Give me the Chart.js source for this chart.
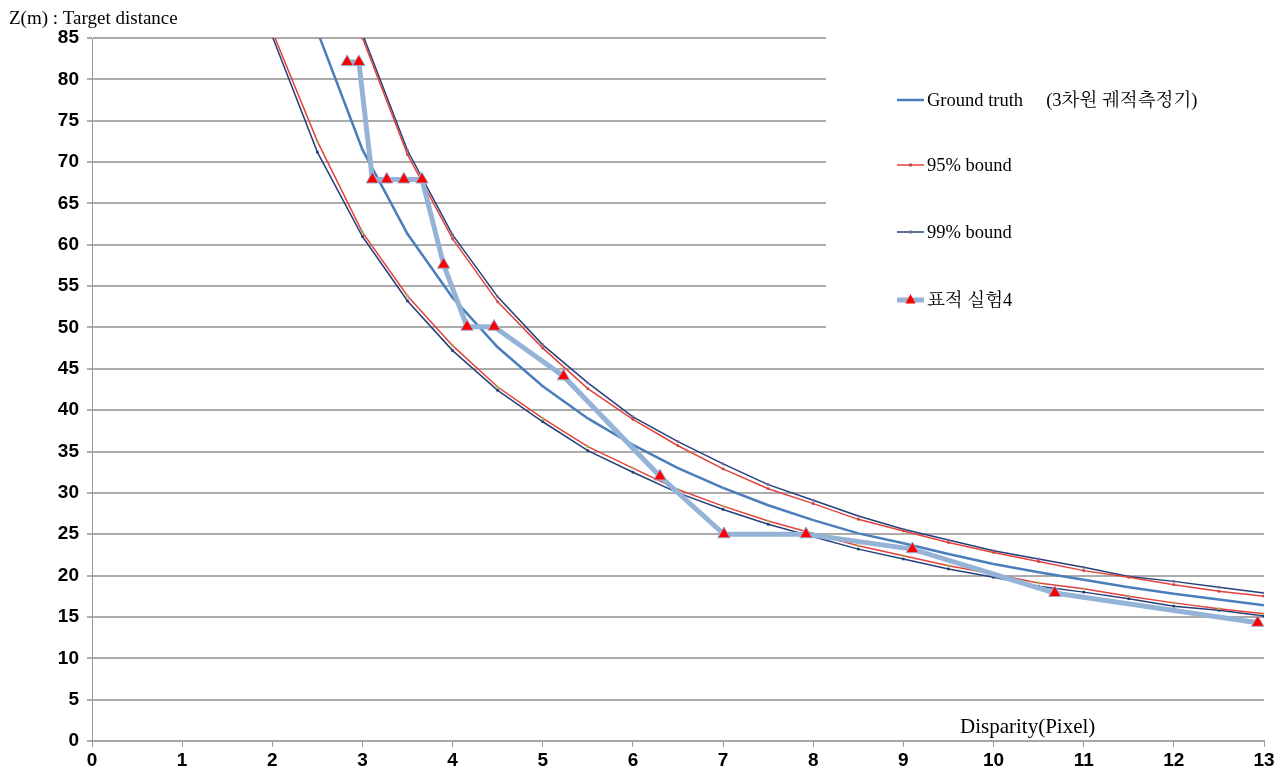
<!DOCTYPE html>
<html>
<head>
<meta charset="utf-8">
<script src="https://cdn.jsdelivr.net/npm/chart.js@4/dist/chart.umd.min.js"></script>
<style>
  html, body { margin: 0; padding: 0; background: #ffffff; }
  #wrap { width: 1283px; height: 775px; position: relative; }
</style>
</head>
<body>
<div id="wrap"><canvas id="c" width="1283" height="775"></canvas></div>
<script>
// ---- data ----
const gtX = [2.5,3,3.5,4,4.5,5,5.5,6,6.5,7,7.5,8,8.5,9,9.5,10,10.5,11,11.5,12,12.5,13];
const groundTruth = [85.8,71.5,61.3,53.6,47.6,42.9,39.0,35.8,33.0,30.6,28.5,26.7,25.1,23.9,22.6,21.4,20.4,19.5,18.6,17.8,17.1,16.4];

const upperX = [3,3.5,4,4.5,5,5.5,6,6.5,7,7.5,8,8.5,9,9.5,10,10.5,11,11.5,12,12.5,13];
const upper95 = [85.0,70.9,60.7,53.1,47.5,42.6,38.9,35.7,32.9,30.5,28.7,26.8,25.4,24.0,22.8,21.7,20.6,19.8,18.9,18.1,17.5];
const upper99 = [85.5,71.4,61.2,53.7,47.9,43.3,39.2,36.2,33.5,31.0,29.1,27.2,25.6,24.3,23.0,22.0,21.0,19.9,19.3,18.6,17.9];

const lowerX = [2,2.5,3,3.5,4,4.5,5,5.5,6,6.5,7,7.5,8,8.5,9,9.5,10,10.5,11,11.5,12,12.5,13];
const lower95 = [85.8,72.5,61.5,53.8,47.8,42.8,39.0,35.6,33.0,30.4,28.4,26.6,25.1,23.6,22.4,21.2,20.2,19.1,18.4,17.5,16.7,16.0,15.4];
const lower99 = [85.2,71.2,61.0,53.2,47.2,42.4,38.6,35.1,32.5,30.0,28.0,26.2,24.7,23.2,22.0,20.8,19.8,18.7,18.0,17.2,16.3,15.8,15.1];

const targetX = [2.83,2.96,3.11,3.27,3.46,3.66,3.90,4.16,4.46,5.23,6.30,7.01,7.92,9.10,10.68,12.93];
const targetY = [82.1,82.1,67.9,67.9,67.9,67.9,57.6,50.1,50.1,44.1,32.0,25.0,25.0,23.2,17.9,14.3];

const xTicks = [0,1,2,3,4,5,6,7,8,9,10,11,12,13];
const yTicks = [0,5,10,15,20,25,30,35,40,45,50,55,60,65,70,75,80,85];

const labelGT = 'Ground truth     (3차원 궤적측정기)';
const label95 = '95% bound';
const label99 = '99% bound';
const labelTarget = '표적 실험4';
const yTitle = 'Z(m) : Target distance';
const xTitle = 'Disparity(Pixel)';

function pts(xs, ys) { return xs.map((x, i) => ({ x: x, y: ys[i] })); }

const C_GT = '#4a7ebb';
const C_95 = '#e5423c';
const C_99 = '#24407a';
const C_T = '#95b3d7';
const SERIF = "'Liberation Serif', 'Times New Roman', 'Noto Serif CJK KR', 'Noto Sans CJK KR', serif";
const TICKFONT = "'Liberation Sans Narrow', 'Liberation Sans', Arial, sans-serif";

const overlayPlugin = {
  id: 'overlay',
  beforeDatasetsDraw(chart) {
    // legend area: grid lines stop at the legend block
    const ctx = chart.ctx, a = chart.chartArea, y = chart.scales.y;
    ctx.save();
    ctx.fillStyle = '#ffffff';
    const yb = y.getPixelForValue(47.5);
    ctx.fillRect(826, a.top - 3, a.right - 826 + 3, yb - a.top + 3);
    ctx.restore();
  },
  afterDraw(chart) {
    const ctx = chart.ctx;
    ctx.save();
    // axis titles
    ctx.fillStyle = '#000';
    ctx.textBaseline = 'alphabetic';
    ctx.font = '19px ' + SERIF;
    ctx.textAlign = 'left';
    ctx.fillText(yTitle, 9, 24);
    ctx.font = '21px ' + SERIF;
    ctx.fillText(xTitle, 960, 733);

    // legend
    const items = [
      { label: labelGT, color: C_GT, w: 2.5, y: 100, marker: 'dash' },
      { label: label95, color: C_95, w: 1.5, y: 165, marker: 'dot', mc: '#be4b48' },
      { label: label99, color: C_99, w: 1.5, y: 232, marker: 'dot', mc: '#8064a2' },
      { label: labelTarget, color: C_T, w: 5, y: 300, marker: 'tri' }
    ];
    items.forEach(it => {
      ctx.strokeStyle = it.color;
      ctx.lineWidth = it.w;
      ctx.beginPath();
      ctx.moveTo(897, it.y);
      ctx.lineTo(924, it.y);
      ctx.stroke();
      if (it.marker === 'dot') {
        ctx.fillStyle = it.mc;
        ctx.fillRect(909, it.y - 1.5, 3, 3);
      } else if (it.marker === 'tri') {
        ctx.fillStyle = '#ff0000';
        ctx.beginPath();
        ctx.moveTo(910.5, it.y - 6);
        ctx.lineTo(915.5, it.y + 3.5);
        ctx.lineTo(905.5, it.y + 3.5);
        ctx.closePath();
        ctx.fill();
      }
      ctx.fillStyle = '#000';
      ctx.font = '18.5px ' + SERIF;
      ctx.textAlign = 'left';
      ctx.textBaseline = 'middle';
      ctx.fillText(it.label, 927, it.y + 1);
    });
    ctx.restore();
  }
};

const lineDefaults = { showLine: true, tension: 0, fill: false };

new Chart(document.getElementById('c'), {
  type: 'scatter',
  data: {
    datasets: [
      Object.assign({}, lineDefaults, {
        label: labelTarget, data: pts(targetX, targetY),
        borderColor: C_T, borderWidth: 5,
        pointStyle: 'triangle', pointRadius: 7.2, pointBackgroundColor: '#ff0000',
        pointBorderColor: C_T, pointBorderWidth: 1, clip: 0
      }),
      Object.assign({}, lineDefaults, {
        label: labelGT, data: pts(gtX, groundTruth),
        borderColor: C_GT, borderWidth: 2.5,
        pointStyle: 'line', pointRadius: 2, pointBorderColor: '#5b8bc6', pointBorderWidth: 1, clip: 0
      }),
      Object.assign({}, lineDefaults, {
        label: label95, data: pts(upperX, upper95),
        borderColor: C_95, borderWidth: 1.5,
        pointStyle: 'rect', pointRadius: 1.8, pointBackgroundColor: '#be4b48', pointBorderColor: '#be4b48', pointBorderWidth: 0, clip: 0
      }),
      Object.assign({}, lineDefaults, {
        label: label95 + ' (lower)', data: pts(lowerX, lower95),
        borderColor: C_95, borderWidth: 1.5,
        pointStyle: 'rect', pointRadius: 1.8, pointBackgroundColor: '#9bbb59', pointBorderColor: '#9bbb59', pointBorderWidth: 0, clip: 0
      }),
      Object.assign({}, lineDefaults, {
        label: label99, data: pts(upperX, upper99),
        borderColor: C_99, borderWidth: 1.5,
        pointStyle: 'rect', pointRadius: 1.8, pointBackgroundColor: '#8064a2', pointBorderColor: '#8064a2', pointBorderWidth: 0, clip: 0
      }),
      Object.assign({}, lineDefaults, {
        label: label99 + ' (lower)', data: pts(lowerX, lower99),
        borderColor: C_99, borderWidth: 1.5,
        pointStyle: 'rect', pointRadius: 1.8, pointBackgroundColor: '#1f3c6e', pointBorderColor: '#1f3c6e', pointBorderWidth: 0, clip: 0
      })
    ]
  },
  options: {
    responsive: false,
    animation: false,
    layout: { padding: { top: 38, right: 19, left: 0, bottom: 0 } },
    plugins: { legend: { display: false }, tooltip: { enabled: false }, title: { display: false } },
    scales: {
      x: {
        type: 'linear', min: 0, max: 13,
        afterBuildTicks: s => { s.ticks = xTicks.map(v => ({ value: v })); },
        afterFit: s => { s.height = 34; },
        grid: { drawOnChartArea: false, drawTicks: true, tickLength: 6, color: '#9a9a9a', lineWidth: 1 },
        border: { display: true, color: '#a6a6a6', width: 2 },
        ticks: { color: '#000', padding: 2, maxRotation: 0, autoSkip: false,
                 font: { family: TICKFONT, size: 19, weight: 'bold' } }
      },
      y: {
        type: 'linear', min: 0, max: 85,
        afterBuildTicks: s => { s.ticks = yTicks.map(v => ({ value: v })); },
        afterFit: s => { s.width = 92; },
        grid: { drawOnChartArea: true, drawTicks: true, tickLength: 5, color: '#ababab', lineWidth: 2 },
        border: { display: true, color: '#9a9a9a', width: 1 },
        ticks: { color: '#000', padding: 8, autoSkip: false,
                 font: { family: TICKFONT, size: 19, weight: 'bold' } }
      }
    }
  },
  plugins: [overlayPlugin]
});
</script>
</body>
</html>
